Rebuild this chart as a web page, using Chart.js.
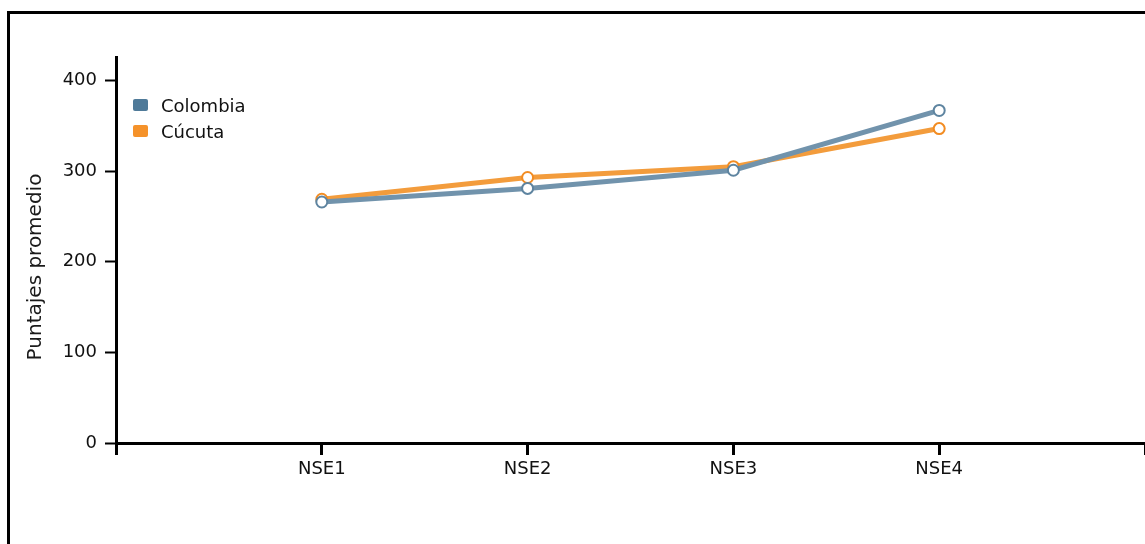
<!DOCTYPE html>
<html>
<head>
<meta charset="utf-8">
<script src="https://cdn.jsdelivr.net/npm/chart.js@4/dist/chart.umd.min.js"></script>
<style>
  html, body { margin: 0; padding: 0; background: #fff; }
  #wrap { position: relative; width: 1145px; height: 544px; overflow: hidden; }
  #frame { position: absolute; left: 7px; top: 11px; width: 1300px; height: 700px;
           border-top: 3px solid #000; border-left: 3px solid #000; box-sizing: border-box; }
  #c { position: absolute; left: 0; top: 0; }
  #legend { position: absolute; left: 133px; top: 92px; font-family: "DejaVu Sans", sans-serif;
            font-size: 18px; color: #111; }
  .li { display: flex; align-items: center; height: 26px; }
  .sw { width: 15px; height: 12px; margin-right: 13px; border-radius: 2px; }
</style>
</head>
<body>
<div id="wrap">
  <div id="frame"></div>
  <canvas id="c" width="1145" height="544"></canvas>
  <div id="legend"></div>
</div>
<script>
const categories = ["NSE1", "NSE2", "NSE3", "NSE4"];
const seriesNames = ["Colombia", "Cúcuta"];
const colombia = [266, 281, 301, 367];
const cucuta = [269, 293, 305, 347];
const yTicks = [0, 100, 200, 300, 400];
const yTitle = "Puntajes promedio";

const lineColors = ["#7193ac", "#f39c3c"];
const pointColors = ["#5e84a0", "#f28c22"];
const swatchColors = ["#4f7a99", "#f5922a"];

function toPoints(vals) { return vals.map((v, i) => ({ x: i + 1, y: v })); }

const font = { family: "DejaVu Sans", size: 18 };

const yTitlePlugin = {
  id: 'yTitle',
  afterDraw(chart) {
    const ctx = chart.ctx;
    ctx.save();
    ctx.translate(36, 267);
    ctx.rotate(-Math.PI / 2);
    ctx.font = '20px "DejaVu Sans"';
    ctx.fillStyle = '#1a1a1a';
    ctx.textAlign = 'center';
    ctx.textBaseline = 'middle';
    ctx.fillText(yTitle, 0, 0);
    ctx.restore();
  }
};

new Chart(document.getElementById('c'), {
  type: 'line',
  data: {
    datasets: [
      { label: seriesNames[0], data: toPoints(colombia), borderColor: lineColors[0], borderWidth: 5,
        pointRadius: 5.5, pointBorderWidth: 2, pointBackgroundColor: '#fff', pointBorderColor: pointColors[0],
        tension: 0 },
      { label: seriesNames[1], data: toPoints(cucuta), borderColor: lineColors[1], borderWidth: 5,
        pointRadius: 5.5, pointBorderWidth: 2, pointBackgroundColor: '#fff', pointBorderColor: pointColors[1],
        tension: 0 }
    ]
  },
  options: {
    responsive: false,
    animation: false,
    layout: { autoPadding: false, padding: { left: 0, top: 57, right: -1, bottom: 0 } },
    plugins: { legend: { display: false }, tooltip: { enabled: false } },
    scales: {
      x: {
        type: 'linear', min: 0, max: 5,
        afterFit(s) { s.height = 101; s.paddingRight = 0; s.paddingLeft = 0; },
        afterBuildTicks(s) { s.ticks = [0,1,2,3,4,5].map(v => ({ value: v })); },
        ticks: {
          font, color: '#111', padding: 4, maxRotation: 0, autoSkip: false,
          callback: (v) => (v >= 1 && v <= categories.length) ? categories[v - 1] : ''
        },
        grid: { drawOnChartArea: false, drawTicks: true, tickLength: 12, tickColor: '#000', tickWidth: 3 },
        border: { display: true, color: '#000', width: 3 }
      },
      y: {
        min: 0, max: 426,
        afterFit(s) { s.width = 116; },
        afterBuildTicks(s) { s.ticks = yTicks.map(v => ({ value: v })); },
        ticks: { font, color: '#111', padding: 8 },
        grid: { drawOnChartArea: false, drawTicks: true, tickLength: 11, tickColor: '#000', tickWidth: 2 },
        border: { display: true, color: '#000', width: 3 }
      }
    }
  },
  plugins: [yTitlePlugin]
});

const leg = document.getElementById('legend');
seriesNames.forEach((n, i) => {
  const d = document.createElement('div');
  d.className = 'li';
  d.innerHTML = '<span class="sw" style="background:' + swatchColors[i] + '"></span><span>' + n + '</span>';
  leg.appendChild(d);
});
</script>
</body>
</html>
